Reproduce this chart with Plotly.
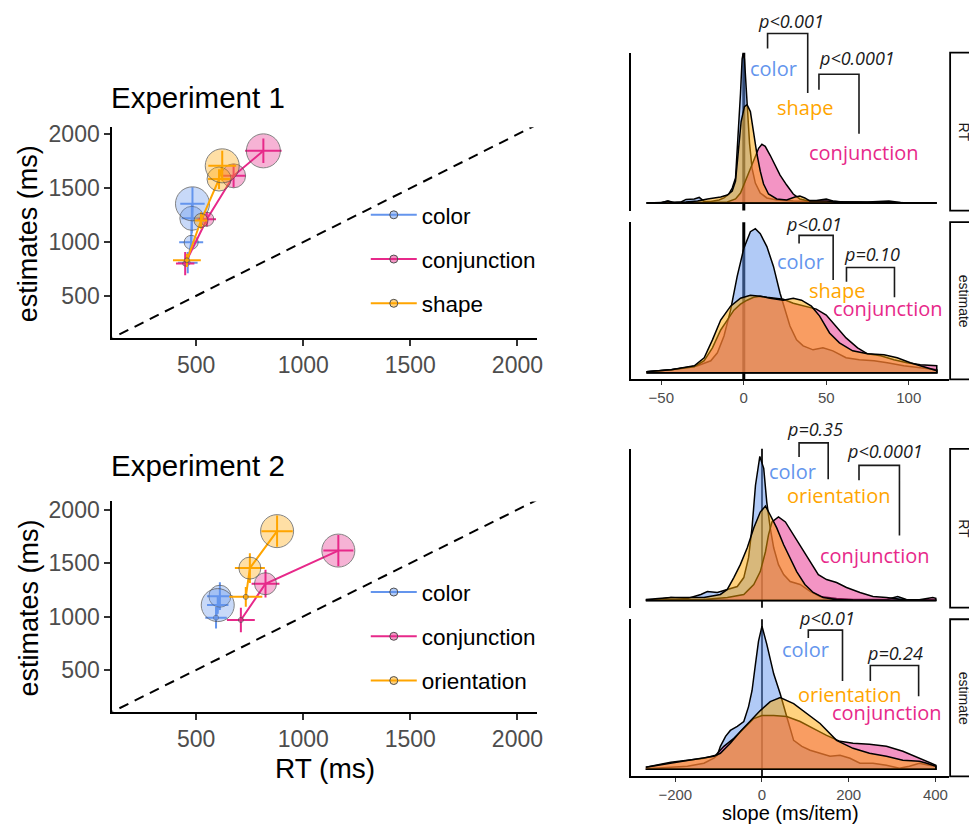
import plotly.graph_objects as go

# ---------------- data: left scatter panels ----------------
exp1_conditions = ["color", "conjunction", "shape"]
exp2_conditions = ["color", "conjunction", "orientation"]

e1_color_rt = [461, 477, 480, 483]
e1_color_est = [808, 997, 1220, 1355]
e1_color_rt_err = [46, 56, 48, 57]
e1_color_est_err = [99, 68, 139, 154]

e1_conj_rt = [449, 550, 675, 814]
e1_conj_est = [800, 1212, 1615, 1847]
e1_conj_rt_err = [43, 43, 56, 85]
e1_conj_est_err = [108, 68, 108, 114]

e1_shape_rt = [457, 523, 607, 622]
e1_shape_est = [830, 1200, 1585, 1708]
e1_shape_rt_err = [65, 28, 51, 65]
e1_shape_est_err = [62, 77, 92, 139]

e2_color_rt = [593, 611, 601]
e2_color_est = [989, 1190, 1107]
e2_color_rt_err = [50, 60, 50]
e2_color_est_err = [100, 130, 80]

e2_conj_rt = [709, 824, 1164]
e2_conj_est = [968, 1307, 1617]
e2_conj_rt_err = [65, 65, 70]
e2_conj_est_err = [115, 130, 146]

e2_orient_rt = [732, 751, 878]
e2_orient_est = [1184, 1453, 1799]
e2_orient_rt_err = [77, 70, 73]
e2_orient_est_err = [93, 139, 146]

identity_line = [0, 2200]

# ---------------- data: density curves (slope, relative density) ----------------
a_color_x = [-59, -50, -46, -43, -38, -35, -30, -27, -24, -20, -15, -12, -9, -7, -5, -3, -2, -1, -0.4, 0.4,
             1.4, 2.4, 3.5, 5, 7, 10, 14, 20, 30, 45, 60, 80, 117]
a_color_h = [0, 0.3, 1.8, 0.3, 1.0, 3.5, 4.0, 5.5, 1.5, 1.5, 3.0, 5.0, 9, 15, 25, 75, 110, 145, 150, 145,
             120, 90, 60, 35, 20, 10, 5, 3, 2, 1.5, 1, 0.5, 0]
a_conj_x = [-59, -30, -15, -10, -5, -2, 0, 3, 6, 9, 11, 13, 16, 19, 22, 26, 30, 34, 38, 44, 50, 54, 60, 75, 88, 95, 117]
a_conj_h = [0, 0.3, 0.5, 1, 4, 10, 18, 30, 42, 55, 59, 57, 48, 38, 28, 18, 9, 4, 2.5, 2.5, 4, 2, 1, 0.8, 2, 0.5, 0]
a_shape_x = [-59, -50, -46, -42, -35, -28, -22, -18, -14, -10, -7, -5, -3, -1.6, 0.4, 2, 4, 6, 8, 10,
             12, 15, 20, 26, 31, 34, 37, 40, 50, 60, 80, 117]
a_shape_h = [0, 0.5, 2, 0.5, 1, 2, 4, 5, 6, 8, 12, 22, 59, 82, 97, 99, 92, 69, 49, 32,
             19, 9, 4, 3, 6, 7, 5, 2, 2, 1, 0.3, 0]

b_color_x = [-59, -44, -28, -20, -16, -12, -8, -4, 0, 4, 7, 10, 14, 18, 22, 25, 28, 32, 36, 42,
             48, 54, 62, 70, 79, 87, 97, 107, 117]
b_color_h = [1, 3, 7, 12, 20, 37, 63, 97, 125, 142, 145, 140, 127, 107, 80, 63, 47, 33, 27, 23,
             25, 22, 15, 13, 12, 10, 7, 5, 3]
b_conj_x = [-59, -44, -30, -24, -19, -14, -10, -6, -2, 2, 6, 10, 14, 18, 24, 30, 38, 44, 50, 56,
            62, 69, 75, 83, 91, 99, 107, 117]
b_conj_h = [1, 3, 6, 12, 25, 43, 53, 63, 69, 73, 76, 77, 76, 75, 74, 70, 67, 64, 58, 47,
            35, 25, 19, 17, 13, 10, 8, 7]
b_shape_x = [-59, -44, -30, -24, -19, -14, -8, -2, 4, 10, 16, 24, 30, 35, 41, 46, 52, 58, 66, 75,
             85, 93, 101, 109, 117]
b_shape_h = [1, 3, 7, 15, 33, 53, 67, 75, 78, 77, 75, 73, 75, 73, 67, 57, 40, 30, 22, 19,
             18, 15, 10, 6, 2]

c_color_x = [-268, -241, -210, -172, -141, -126, -103, -80, -57, -42, -31, -23, -15, -5, 4, 11, 19, 27, 38, 50,
             65, 88, 111, 134, 172, 210, 287, 313, 333, 401]
c_color_h = [0.3, 1, 3, 2, 6, 9, 8, 11, 14, 23, 43, 73, 116, 145, 133, 99, 73, 53, 36, 26,
             19, 16, 9, 4, 2, 1, 1, 4, 1, 0.3]
c_conj_x = [-268, -134, -80, -42, -19, -4, 8, 15, 23, 38, 54, 73, 92, 111, 130, 149, 172, 195, 226, 256,
            287, 325, 363, 394, 401]
c_conj_h = [0.3, 1, 3, 6, 16, 29, 49, 66, 79, 84, 79, 66, 53, 39, 26, 21, 18, 13, 8, 4,
            3, 1, 0.7, 3, 2]
c_orient_x = [-268, -210, -172, -134, -96, -80, -65, -50, -34, -19, -4, 8, 19, 34, 50, 65, 80, 99, 118, 141,
              172, 210, 401]
c_orient_h = [1, 3, 3, 3, 6, 11, 23, 36, 53, 73, 89, 95, 86, 73, 56, 43, 29, 16, 8, 3,
              1, 0.3, 0]

d_color_x = [-268, -210, -172, -134, -111, -103, -96, -84, -73, -57, -42, -31, -23, -15, -8, 0, 11, 27, 42, 57,
             73, 92, 111, 134, 157, 180, 203, 226, 256, 287, 317, 340, 363, 386, 401]
d_color_h = [0.3, 2, 3, 6, 11, 14, 23, 33, 39, 43, 48, 63, 79, 106, 129, 144, 126, 96, 76, 53,
             29, 23, 19, 16, 13, 14, 11, 6, 6, 4, 1, 3, 6, 4, 3]
d_conj_x = [-268, -210, -172, -134, -107, -88, -65, -42, -19, 0, 27, 57, 88, 118, 149, 180, 210, 248, 287, 325,
            363, 401]
d_conj_h = [2, 7, 9, 11, 14, 23, 31, 41, 51, 54, 54, 53, 48, 41, 34, 28, 26, 25, 23, 18,
            11, 4]
d_orient_x = [-268, -210, -172, -134, -111, -96, -73, -50, -27, -4, 19, 42, 73, 103, 134, 172, 210, 248, 287, 325,
              363, 380, 401]
d_orient_h = [2, 6, 9, 11, 13, 16, 26, 38, 49, 59, 68, 72, 66, 56, 46, 29, 21, 16, 13, 9,
              8, 6, 3]

slope_ticks_exp1 = [-50, 0, 50, 100]
slope_ticks_exp2 = [-200, 0, 200, 400]
ms_ticks = [500, 1000, 1500, 2000]

# ---------------- styling / layout helpers ----------------
OFFX, OFFY = 5, 12           # compensation for the page offset of the plot div
W, H = 969, 823
SANS = "Liberation Sans, Arial, sans-serif"
LBL = "Open Sans, sans-serif"
COLORS = {"color": "#6495ED", "conjunction": "#E7298A", "shape": "#FFA500", "orientation": "#FFA500"}


def rgba(hexc, a):
    h = hexc.lstrip("#")
    return "rgba(%d,%d,%d,%s)" % (int(h[0:2], 16), int(h[2:4], 16), int(h[4:6], 16), a)


def fx(p):
    return (p - OFFX) / W


def fy(p):
    return 1 - (p - OFFY) / H


fig = go.Figure()

# ---------- left scatter panels ----------
E1_SIZES = [5, 14, 24, 34]
E2_SIZES = [5, 22, 33]


def add_scatter(rt, est, rt_err, est_err, cond, sizes, xa, ya):
    c = COLORS[cond]
    fig.add_trace(go.Scatter(
        x=rt, y=est, mode="lines+markers", xaxis=xa, yaxis=ya, showlegend=False,
        line=dict(color=c, width=2),
        marker=dict(size=sizes, color=rgba(c, 0.5), line=dict(color="#505050", width=1)),
        error_x=dict(type="data", array=rt_err, color=c, thickness=2, width=0),
        error_y=dict(type="data", array=est_err, color=c, thickness=2, width=0),
        hoverinfo="skip"))


for xa, ya in [("x", "y"), ("x2", "y2")]:
    fig.add_trace(go.Scatter(x=identity_line, y=identity_line, mode="lines", xaxis=xa, yaxis=ya,
                             showlegend=False, line=dict(color="black", width=2, dash="10px,7px"),
                             hoverinfo="skip"))

add_scatter(e1_color_rt, e1_color_est, e1_color_rt_err, e1_color_est_err, "color", E1_SIZES, "x", "y")
add_scatter(e1_conj_rt, e1_conj_est, e1_conj_rt_err, e1_conj_est_err, "conjunction", E1_SIZES, "x", "y")
add_scatter(e1_shape_rt, e1_shape_est, e1_shape_rt_err, e1_shape_est_err, "shape", E1_SIZES, "x", "y")

add_scatter(e2_color_rt, e2_color_est, e2_color_rt_err, e2_color_est_err, "color", E2_SIZES, "x2", "y2")
add_scatter(e2_conj_rt, e2_conj_est, e2_conj_rt_err, e2_conj_est_err, "conjunction", E2_SIZES, "x2", "y2")
add_scatter(e2_orient_rt, e2_orient_est, e2_orient_rt_err, e2_orient_est_err, "orientation", E2_SIZES, "x2", "y2")

# legend entries
for conds, leg, xa, ya in [(exp1_conditions, "legend", "x", "y"), (exp2_conditions, "legend2", "x2", "y2")]:
    for cond in conds:
        c = COLORS[cond]
        fig.add_trace(go.Scatter(
            x=[None], y=[None], mode="lines+markers", name=cond, legend=leg, legendgroup=leg + cond,
            xaxis=xa, yaxis=ya, line=dict(color=c, width=2),
            marker=dict(size=8, color=rgba(c, 0.5), line=dict(color="#505050", width=1))))

# ---------- density panels ----------
def add_density(xs, hs, cond, xa, ya):
    c = COLORS[cond]
    fig.add_trace(go.Scatter(
        x=list(xs) + [xs[-1], xs[0]], y=list(hs) + [0, 0], mode="lines", fill="toself",
        fillcolor=rgba(c, 0.5), line=dict(color="black", width=1.5), xaxis=xa, yaxis=ya,
        showlegend=False, hoverinfo="skip"))


add_density(a_color_x, a_color_h, "color", "x3", "y3")
add_density(a_conj_x, a_conj_h, "conjunction", "x3", "y3")
add_density(a_shape_x, a_shape_h, "shape", "x3", "y3")
add_density(b_color_x, b_color_h, "color", "x4", "y4")
add_density(b_conj_x, b_conj_h, "conjunction", "x4", "y4")
add_density(b_shape_x, b_shape_h, "shape", "x4", "y4")
add_density(c_color_x, c_color_h, "color", "x5", "y5")
add_density(c_conj_x, c_conj_h, "conjunction", "x5", "y5")
add_density(c_orient_x, c_orient_h, "orientation", "x5", "y5")
add_density(d_color_x, d_color_h, "color", "x6", "y6")
add_density(d_conj_x, d_conj_h, "conjunction", "x6", "y6")
add_density(d_orient_x, d_orient_h, "orientation", "x6", "y6")

# ---------- axes ----------
tickfont_big = dict(family=SANS, size=23, color="#4D4D4D")
tickfont_small = dict(family=SANS, size=15, color="#4D4D4D")

common_ms = dict(tickvals=ms_ticks, ticks="outside", ticklen=6, tickwidth=1.5, tickcolor="#333333",
                 showline=True, linecolor="black", linewidth=2, showgrid=False, zeroline=False,
                 tickfont=tickfont_big, fixedrange=True)

layout_axes = dict(
    xaxis=dict(domain=[fx(110), fx(537)], range=[109, 2090], anchor="y", **common_ms),
    yaxis=dict(domain=[fy(338), fy(126)], range=[112, 2067], anchor="x", **common_ms),
    xaxis2=dict(domain=[fx(110), fx(537)], range=[109, 2090], anchor="y2", **common_ms),
    yaxis2=dict(domain=[fy(715), fy(503)], range=[108, 2077], anchor="x2", **common_ms),
)

RX0, RX1 = 632, 952   # right-hand panels, pixel extent
panels = [
    # axis suffix, top, bottom, baseline (pixels), slope range, ticks or None
    ("3", 51, 210, 202.3, [-68.3, 124.5], None),
    ("4", 221.7, 380, 373.3, [-68.3, 124.5], slope_ticks_exp1),
    ("5", 450, 610, 602.7, [-301.9, 431.7], None),
    ("6", 621.7, 780, 772.7, [-301.9, 431.7], slope_ticks_exp2),
]
for k, top, bot, base, xr, ticks in panels:
    xd = dict(domain=[fx(RX0), fx(RX1)], range=xr, anchor="y" + k, showgrid=False, zeroline=False,
              fixedrange=True)
    if ticks is None:
        xd.update(showticklabels=False, ticks="", showline=False)
    else:
        xd.update(tickvals=ticks, ticks="outside", ticklen=4, tickwidth=1.2, tickcolor="#333333",
                  showline=True, linecolor="black", linewidth=1.8, tickfont=tickfont_small)
    yd = dict(domain=[fy(bot), fy(top)], range=[-(bot - base), base - top], anchor="x" + k,
              showline=True, linecolor="black", linewidth=1.5, showticklabels=False, ticks="",
              showgrid=False, zeroline=False, fixedrange=True)
    layout_axes["xaxis" + k] = xd
    layout_axes["yaxis" + k] = yd

# ---------- shapes ----------
shapes = []
for k, w, col in [("3", 3, "black"), ("4", 3, "black"), ("5", 2, "#222222"), ("6", 2, "#222222")]:
    shapes.append(dict(type="line", xref="x" + k, yref="y%s domain" % k, x0=0, x1=0, y0=0, y1=1,
                       line=dict(color=col, width=w), layer="below"))

DX = 2  # small horizontal nudge for the right-hand decorations
brackets = [
    [(767.3, 46.7), (767.3, 31.7), (807.7, 31.7), (807.7, 91.7)],
    [(819, 88.3), (819, 72.7), (859.3, 72.7), (859.3, 132.7)],
    [(799, 243.3), (799, 235), (833.3, 235), (833.3, 280)],
    [(846.7, 281.7), (846.7, 267.3), (895, 267.3), (895, 297.3)],
    [(799, 458.3), (799, 444), (828.3, 444), (828.3, 480.7)],
    [(859.3, 481.7), (859.3, 466.7), (900, 466.7), (900, 537.3)],
    [(808.3, 640.7), (808.3, 632.7), (842.7, 632.7), (842.7, 684)],
    [(870.7, 684), (870.7, 668.3), (919.3, 668.3), (919.3, 699.3)],
]
for br in brackets:
    path = "M " + " L ".join("%f,%f" % (fx(a + DX), fy(b)) for a, b in br)
    shapes.append(dict(type="path", xref="paper", yref="paper", path=path,
                       line=dict(color="#1a1a1a", width=1.6)))

# facet strips
strips = [(51, 210, "RT"), (221.7, 380, "estimate"), (450, 610, "RT"), (621.7, 780, "estimate")]
for top, bot, _ in strips:
    shapes.append(dict(type="rect", xref="paper", yref="paper", x0=fx(953), x1=fx(995),
                       y0=fy(bot), y1=fy(top), line=dict(color="black", width=1.8), fillcolor="white",
                       layer="above"))

# ---------- annotations ----------
ann = []


def text(x, y, s, size, color="black", family=SANS, angle=0, xanchor="center"):
    ann.append(dict(x=fx(x), y=fy(y), xref="paper", yref="paper", text=s, showarrow=False,
                    xanchor=xanchor, yanchor="middle", textangle=angle,
                    font=dict(size=size, color=color, family=family)))


text(107, 96, "Experiment 1", 29.5, xanchor="left")
text(107, 467, "Experiment 2", 29.5, xanchor="left")
text(26, 233, "estimates (ms)", 27, angle=-90)
text(26, 610, "estimates (ms)", 27, angle=-90)
text(324, 772, "RT (ms)", 28)
text(792, 817, "slope (ms/item)", 20)

for top, bot, s in strips:
    text(967, (top + bot) / 2, s, 14, color="#1a1a1a", angle=90)

lab = [
    (773, 66.7, "color", "color"), (805, 106, "shape", "shape"), (864.3, 151.7, "conjunction", "conjunction"),
    (800.5, 261.7, "color", "color"), (836.7, 291, "shape", "shape"), (888.3, 309, "conjunction", "conjunction"),
    (792.3, 473.3, "color", "color"), (839, 496.7, "orientation", "orientation"),
    (875, 557.7, "conjunction", "conjunction"),
    (805, 652.3, "color", "color"), (850, 697.3, "orientation", "orientation"),
    (887.7, 715.3, "conjunction", "conjunction"),
]
for x, y, s, cond in lab:
    text(x + DX, y, s, 20, color=COLORS[cond], family=LBL)

pvals = [
    (790.7, 19, "p&lt;0.001"), (857.3, 56.7, "p&lt;0.0001"),
    (814, 223.3, "p&lt;0.01"), (872.3, 253.3, "p=0.10"),
    (815, 430, "p=0.35"), (885, 452.7, "p&lt;0.0001"),
    (827.3, 620, "p&lt;0.01"), (896, 656, "p=0.24"),
]
for x, y, s in pvals:
    text(x + DX, y, "<i>" + s + "</i>", 18, color="#1a1a1a", family=LBL)

legend_common = dict(xanchor="left", yanchor="top", bgcolor="rgba(0,0,0,0)",
                     font=dict(family=SANS, size=22.5, color="black"), tracegroupgap=12,
                     itemwidth=46, itemclick=False, itemdoubleclick=False)

fig.update_layout(
    width=W, height=H, margin=dict(l=0, r=0, t=0, b=0),
    paper_bgcolor="white", plot_bgcolor="rgba(0,0,0,0)",
    shapes=shapes, annotations=ann,
    legend=dict(x=fx(365), y=fy(193), **legend_common),
    legend2=dict(x=fx(365), y=fy(573), **legend_common),
    **layout_axes,
)

fig.write_html("out.html")
